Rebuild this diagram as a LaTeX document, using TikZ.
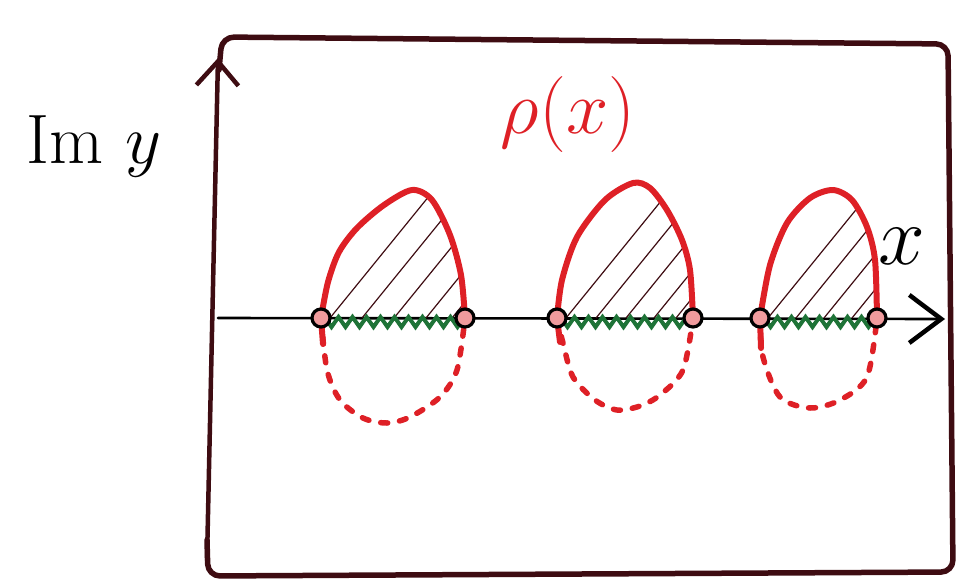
\documentclass[tikz,border=0pt]{standalone}
\usepackage{fix-cm}
\usetikzlibrary{arrows.meta,decorations.pathmorphing}
\definecolor{inkred}{RGB}{222,32,38}
\definecolor{inkbrown}{RGB}{62,12,18}
\definecolor{inkgreen}{RGB}{30,115,55}

\begin{document}
\begin{tikzpicture}[x=1pt,y=-1pt,
    frame/.style={inkbrown, line width=5.5pt, line cap=round, line join=round, rounded corners=12pt},
    axis/.style={line width=2.6pt, line cap=round},
    lobe/.style={inkred, line width=6pt, line cap=round},
    lobedash/.style={inkred, line width=5.5pt, line cap=round, dash pattern=on 7pt off 12pt},
    hatch/.style={inkbrown, line width=1.2pt},
    cut/.style={inkgreen, line width=4pt, decorate, decoration={zigzag, segment length=14pt, amplitude=5pt}},
    endpt/.style={circle, draw=black, line width=3.2pt, fill=inkred!45!white, minimum size=18pt, inner sep=0pt},
    txt/.style={font=\fontsize{70}{80}\selectfont}
  ]
  \useasboundingbox (0,0) rectangle (967,584);

  % frame and axes
  \draw[frame] (219,70) -- (222,37) -- (948,44) -- (953,572) -- (208,576) -- (207,540);
  \draw[axis, inkbrown, line width=4.5pt, -{Straight Barb[length=24pt,width=42pt,line width=4.5pt]}] (207,560) -- (218,58);
  \draw[axis, black, -{Straight Barb[length=32pt,width=48pt,line width=4.5pt]}] (218,318) -- (945,319);

  % branch points
  \coordinate (a1) at (321,318); \coordinate (b1) at (465,318);
  \coordinate (a2) at (557,318); \coordinate (b2) at (693,318);
  \coordinate (a3) at (760,318); \coordinate (b3) at (877,318);

  % hatching of the upper halves
  \begin{scope}
    \clip plot[smooth] coordinates {(a1) (328,282) (339,252) (357,228) (384,205) (412,190) (432,200) (450,235) (461,275) (b1)} -- cycle;
    \foreach \s in {330,362,394,426,452}
      \draw[hatch] (\s,318) -- ++(130,-160);
  \end{scope}
  \begin{scope}
    \clip plot[smooth] coordinates {(a2) (562,280) (577,237) (605,200) (633,183) (650,188) (667,210) (682,240) (690,270) (b2)} -- cycle;
    \foreach \s in {566,596,626,654,676,690}
      \draw[hatch] (\s,318) -- ++(130,-160);
  \end{scope}
  \begin{scope}
    \clip plot[smooth] coordinates {(a3) (770,265) (787,223) (810,198) (833,190) (852,200) (867,227) (875,260) (b3)} -- cycle;
    \foreach \s in {768,796,824,852}
      \draw[hatch] (\s,318) -- ++(130,-160);
  \end{scope}

  % upper (solid) and lower (dashed) halves
  \draw[lobe] plot[smooth] coordinates {(a1) (328,282) (339,252) (357,228) (384,205) (412,190) (432,200) (450,235) (461,275) (b1)};
  \draw[lobe] (a1) -- ++(2,26);
  \draw[lobedash] plot[smooth] coordinates {(a1) (327,370) (340,400) (363,418) (387,423) (410,417) (440,397) (457,370) (b1)};
  \draw[lobe] plot[smooth] coordinates {(a2) (562,280) (577,237) (605,200) (633,183) (650,188) (667,210) (682,240) (690,270) (b2)};
  \draw[lobe] (a2) -- ++(3,24);
  \draw[lobedash] plot[smooth] coordinates {(a2) (563,343) (573,377) (595,400) (617,410) (640,406) (660,395) (683,370) (b2)};
  \draw[lobe] plot[smooth] coordinates {(a3) (770,265) (787,223) (810,198) (833,190) (852,200) (867,227) (875,260) (b3)};
  \draw[lobe] (a3) -- ++(1,30);
  \draw[lobedash] plot[smooth] coordinates {(a3) (763,357) (780,397) (810,408) (840,400) (867,377) (b3)};

  % cuts
  \draw[cut] ([yshift=-4pt]a1) -- ([yshift=-4pt]b1);
  \draw[cut] ([yshift=-4pt]a2) -- ([yshift=-4pt]b2);
  \draw[cut] ([yshift=-4pt]a3) -- ([yshift=-4pt]b3);

  \foreach \p in {a1,b1,a2,b2,a3,b3}
    \node[endpt] (e\p) at (\p) {};

  % labels
  \node[txt] (imy) at (94,146) {Im $y$};
  \node[txt, inkred, font=\fontsize{76}{84}\selectfont] (rho) at (568,114) {$\rho(x)$};
  \node[txt, font=\fontsize{84}{90}\selectfont] (xlab) at (902,246) {$x$};
\end{tikzpicture}
\end{document}
